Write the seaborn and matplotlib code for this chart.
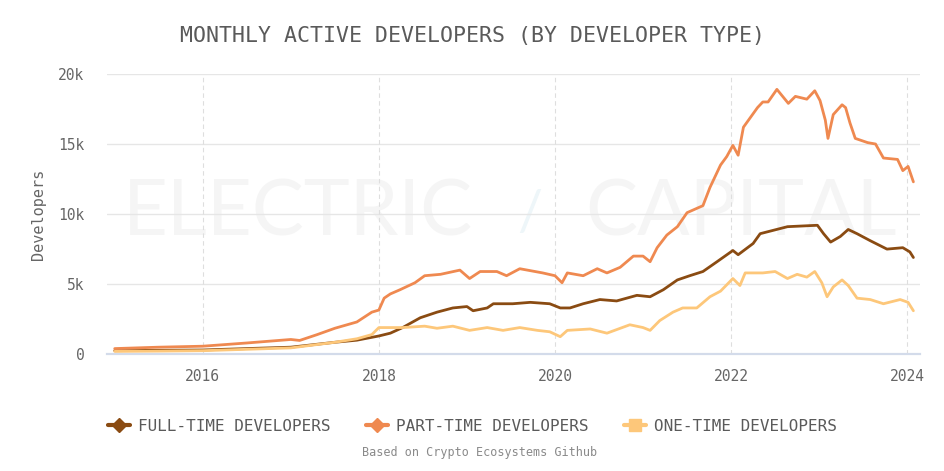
import pandas as pd
import matplotlib
matplotlib.use("Agg")
import matplotlib.pyplot as plt
import seaborn as sns
from matplotlib.lines import Line2D
from matplotlib.ticker import FuncFormatter

# -----------------------------
# Data (thousands of developers)
# -----------------------------
ft_years = [2015.0, 2015.5, 2016.0, 2016.5, 2017.0, 2017.5, 2017.75, 2018.0, 2018.13, 2018.27,
            2018.47, 2018.66, 2018.84, 2019.0, 2019.07, 2019.23, 2019.3, 2019.52, 2019.72, 2019.94,
            2020.06, 2020.17, 2020.32, 2020.51, 2020.7, 2020.93, 2021.08, 2021.23, 2021.39, 2021.53,
            2021.68, 2021.84, 2022.02, 2022.08, 2022.25, 2022.33, 2022.64, 2022.98, 2023.05, 2023.13,
            2023.24, 2023.33, 2023.43, 2023.58, 2023.77, 2023.95, 2024.03, 2024.07]
full_time = [0.25, 0.28, 0.30, 0.40, 0.50, 0.85, 1.0, 1.3, 1.5, 1.9,
             2.6, 3.0, 3.3, 3.4, 3.1, 3.3, 3.6, 3.6, 3.7, 3.6,
             3.3, 3.3, 3.6, 3.9, 3.8, 4.2, 4.1, 4.6, 5.3, 5.6,
             5.9, 6.6, 7.4, 7.1, 7.9, 8.6, 9.1, 9.2, 8.6, 8.0,
             8.4, 8.9, 8.6, 8.1, 7.5, 7.6, 7.3, 6.9]

pt_years = [2015.0, 2015.5, 2016.0, 2016.5, 2017.0, 2017.1, 2017.3, 2017.5, 2017.75, 2017.92,
            2018.0, 2018.06, 2018.13, 2018.24, 2018.41, 2018.52, 2018.7, 2018.92, 2019.03, 2019.15,
            2019.34, 2019.45, 2019.6, 2019.86, 2020.0, 2020.08, 2020.14, 2020.32, 2020.48, 2020.59,
            2020.74, 2020.89, 2021.0, 2021.08, 2021.16, 2021.27, 2021.39, 2021.5, 2021.68, 2021.76,
            2021.88, 2021.95, 2022.02, 2022.08, 2022.14, 2022.22, 2022.3, 2022.36, 2022.42, 2022.52,
            2022.65, 2022.73, 2022.86, 2022.95, 2023.01, 2023.07, 2023.1, 2023.16, 2023.26, 2023.3,
            2023.35, 2023.41, 2023.55, 2023.64, 2023.73, 2023.89, 2023.95, 2024.01, 2024.07]
part_time = [0.40, 0.50, 0.57, 0.80, 1.05, 0.98, 1.40, 1.85, 2.30, 3.0,
             3.15, 4.0, 4.3, 4.6, 5.1, 5.6, 5.7, 6.0, 5.4, 5.9,
             5.9, 5.6, 6.1, 5.8, 5.6, 5.1, 5.8, 5.6, 6.1, 5.8,
             6.2, 7.0, 7.0, 6.6, 7.6, 8.5, 9.1, 10.1, 10.6, 11.9,
             13.5, 14.1, 14.9, 14.2, 16.2, 16.9, 17.6, 18.0, 18.0, 18.9,
             17.9, 18.4, 18.2, 18.8, 18.1, 16.7, 15.4, 17.1, 17.8, 17.6,
             16.5, 15.4, 15.1, 15.0, 14.0, 13.9, 13.1, 13.4, 12.3]

ot_years = [2015.0, 2015.5, 2016.0, 2016.5, 2017.0, 2017.5, 2017.75, 2017.92, 2018.0, 2018.13,
            2018.27, 2018.52, 2018.66, 2018.84, 2019.03, 2019.23, 2019.41, 2019.6, 2019.8, 2019.94,
            2020.06, 2020.14, 2020.4, 2020.59, 2020.85, 2021.0, 2021.08, 2021.19, 2021.34, 2021.45,
            2021.61, 2021.76, 2021.88, 2022.02, 2022.1, 2022.16, 2022.36, 2022.5, 2022.64, 2022.75,
            2022.86, 2022.95, 2023.03, 2023.09, 2023.16, 2023.26, 2023.33, 2023.43, 2023.58, 2023.73,
            2023.92, 2024.01, 2024.07]
one_time = [0.20, 0.22, 0.25, 0.35, 0.45, 0.85, 1.1, 1.4, 1.9, 1.9,
            1.9, 2.0, 1.85, 2.0, 1.7, 1.9, 1.7, 1.9, 1.7, 1.6,
            1.25, 1.7, 1.8, 1.5, 2.1, 1.9, 1.7, 2.4, 3.0, 3.3,
            3.3, 4.1, 4.5, 5.4, 4.9, 5.8, 5.8, 5.9, 5.4, 5.7,
            5.5, 5.9, 5.1, 4.1, 4.8, 5.3, 4.9, 4.0, 3.9, 3.6,
            3.9, 3.7, 3.1]

labels = ["FULL-TIME DEVELOPERS", "PART-TIME DEVELOPERS", "ONE-TIME DEVELOPERS"]
colors = ["#8a4b12", "#ef8950", "#fdc77a"]
year_ticks = [2016, 2018, 2020, 2022, 2024]
dev_ticks = [0, 5000, 10000, 15000, 20000]

frames = []
for yrs, vals, lab in zip([ft_years, pt_years, ot_years], [full_time, part_time, one_time], labels):
    frames.append(pd.DataFrame({"year": yrs, "devs": [v * 1000 for v in vals], "type": lab}))
df = pd.concat(frames, ignore_index=True)

# -----------------------------
# Plot
# -----------------------------
sns.set_style("white")
plt.rcParams["font.family"] = ["DejaVu Sans Mono"]

fig = plt.figure(figsize=(9.45, 4.71), dpi=100)
ax = fig.add_axes([0.113, 0.248, 0.861, 0.595])

# faint watermark
ax.text(0.235, 0.5, "ELECTRIC", transform=ax.transAxes, ha="center", va="center",
        fontsize=56, color="#f5f5f5", family="Lato", zorder=0)
ax.text(0.52, 0.5, "/", transform=ax.transAxes, ha="center", va="center",
        fontsize=40, color="#eef6f9", family="Lato", zorder=0)
ax.text(0.78, 0.5, "CAPITAL", transform=ax.transAxes, ha="center", va="center",
        fontsize=56, color="#f5f5f5", family="Lato", zorder=0)

sns.lineplot(data=df, x="year", y="devs", hue="type", hue_order=labels,
             palette=colors, linewidth=2.0, estimator=None, sort=False,
             legend=False, ax=ax, zorder=3)

ax.set_xlim(2014.91, 2024.15)
ax.set_ylim(0, 20000)
ax.set_xticks(year_ticks)
ax.set_yticks(dev_ticks)
ax.yaxis.set_major_formatter(FuncFormatter(lambda v, p: "0" if v == 0 else f"{int(v / 1000)}k"))

ax.grid(False)
for t in dev_ticks[1:]:
    ax.axhline(t, color="#e6e6e6", lw=1, zorder=1)
for t in year_ticks:
    ax.axvline(t, color="#dedede", lw=0.8, ls=(0, (4, 3)), zorder=1)

for s in ["top", "right", "left"]:
    ax.spines[s].set_visible(False)
ax.spines["bottom"].set_color("#d3dbea")
ax.spines["bottom"].set_linewidth(1.6)

ax.tick_params(axis="both", length=0, labelsize=10.5, labelcolor="#666666")
ax.tick_params(axis="y", pad=16)
ax.tick_params(axis="x", pad=11)
ax.set_xlabel("")
ax.set_ylabel("Developers", fontsize=11, color="#666666", labelpad=9)

fig.text(0.5, 0.923, "MONTHLY ACTIVE DEVELOPERS (BY DEVELOPER TYPE)", ha="center", va="center",
         fontsize=15.5, color="#5a5a5a")

handles = [
    Line2D([], [], color=colors[0], lw=3, marker="D", markersize=7),
    Line2D([], [], color=colors[1], lw=3, marker="D", markersize=7),
    Line2D([], [], color=colors[2], lw=3, marker="s", markersize=8),
]
leg = fig.legend(handles, labels, loc="center", bbox_to_anchor=(0.5, 0.095), ncol=3,
                 frameon=False, fontsize=11.5, handlelength=1.4, handletextpad=0.5,
                 columnspacing=2.2)
for txt in leg.get_texts():
    txt.set_color("#5a5a5a")

fig.text(0.508, 0.04, "Based on Crypto Ecosystems Github", ha="center", va="center",
         fontsize=8.5, color="#8a8a8a")

fig.savefig("out.png", dpi=100)
